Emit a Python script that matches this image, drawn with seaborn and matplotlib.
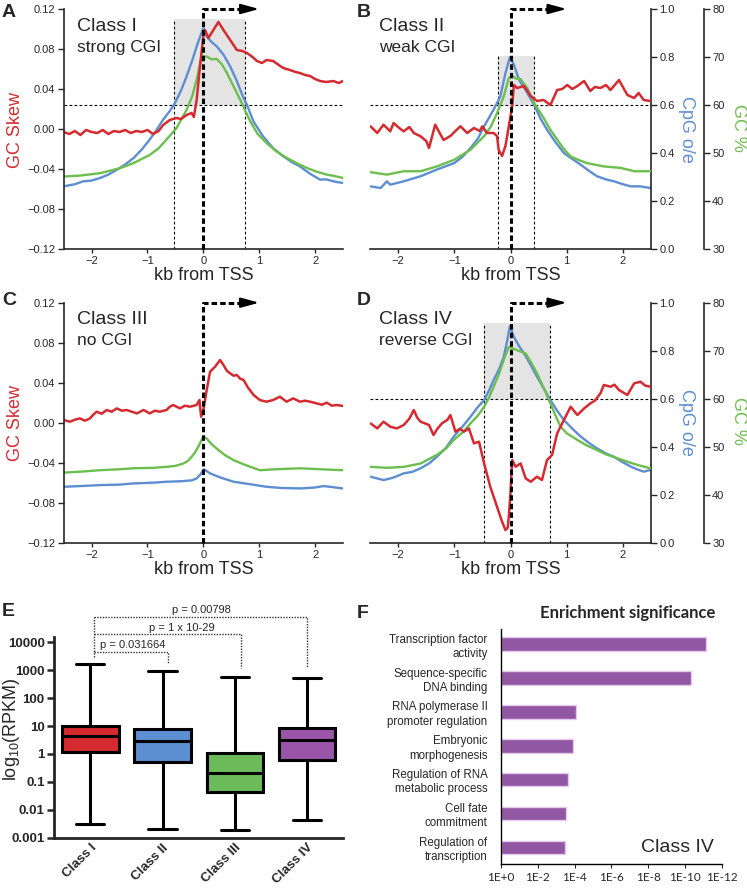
import numpy as np
import pandas as pd
import matplotlib
matplotlib.use("Agg")
import matplotlib.pyplot as plt
import seaborn as sns

# ---------------- dados ----------------
kb_ticks = [-2, -1, 0, 1, 2]
skew_ticks = [-0.12, -0.08, -0.04, 0.0, 0.04, 0.08, 0.12]
skew_labels = ["\u22120.12", "\u22120.08", "\u22120.04", "0.00", "0.04", "0.08", "0.12"]
cpg_ticks = [0.0, 0.2, 0.4, 0.6, 0.8, 1.0]
cpg_labels = ["0.0", "0.2", "0.4", "0.6", "0.8", "1.0"]
gc_ticks = [30, 40, 50, 60, 70, 80]

# (kb from TSS, GC skew)
skew_a = [(-2.5, -0.003), (-2.4, -0.005), (-2.3, -0.002), (-2.2, -0.006), (-2.1, -0.001),
          (-2.0, -0.003), (-1.9, -0.004), (-1.8, -0.001), (-1.7, -0.005), (-1.6, -0.002),
          (-1.5, -0.003), (-1.4, -0.001), (-1.3, -0.004), (-1.2, -0.002), (-1.1, -0.003),
          (-1.0, -0.001), (-0.9, -0.005), (-0.8, -0.002), (-0.72, 0.004), (-0.6, 0.009),
          (-0.48, 0.011), (-0.4, 0.010), (-0.3, 0.014), (-0.21, 0.016), (-0.17, 0.012),
          (-0.12, 0.029), (-0.06, 0.063), (0.0, 0.093), (0.03, 0.099), (0.09, 0.091),
          (0.18, 0.099), (0.27, 0.107), (0.36, 0.099), (0.48, 0.089), (0.6, 0.079),
          (0.7, 0.078), (0.78, 0.076), (0.88, 0.072), (0.96, 0.068), (1.05, 0.066),
          (1.13, 0.069), (1.25, 0.068), (1.35, 0.064), (1.43, 0.061), (1.55, 0.059),
          (1.65, 0.057), (1.73, 0.056), (1.82, 0.054), (1.91, 0.053), (2.0, 0.050),
          (2.09, 0.048), (2.2, 0.047), (2.33, 0.048), (2.42, 0.046), (2.5, 0.048)]
# (kb, CpG o/e)
cpg_a = [(-2.5, 0.261), (-2.3, 0.27), (-2.15, 0.282), (-2.0, 0.285), (-1.85, 0.296),
         (-1.7, 0.31), (-1.55, 0.33), (-1.4, 0.352), (-1.25, 0.379), (-1.1, 0.415),
         (-0.96, 0.456), (-0.84, 0.495), (-0.72, 0.539), (-0.6, 0.575), (-0.51, 0.608),
         (-0.4, 0.66), (-0.3, 0.719), (-0.2, 0.785), (-0.12, 0.844), (-0.05, 0.89),
         (0.0, 0.921), (0.03, 0.905), (0.06, 0.886), (0.15, 0.862), (0.24, 0.844),
         (0.36, 0.81), (0.48, 0.761), (0.6, 0.7), (0.7, 0.64), (0.78, 0.601), (0.9, 0.53),
         (1.07, 0.469), (1.25, 0.42), (1.43, 0.386), (1.6, 0.36), (1.73, 0.344),
         (1.9, 0.315), (2.09, 0.289), (2.2, 0.29), (2.33, 0.282), (2.42, 0.278), (2.5, 0.275)]
# (kb, GC %)
gc_a = [(-2.5, 45.1), (-2.2, 45.3), (-1.85, 45.8), (-1.5, 46.8), (-1.25, 47.9), (-0.96, 49.6),
        (-0.8, 51.0), (-0.66, 52.8), (-0.48, 55.2), (-0.3, 59.0), (-0.2, 61.8), (-0.12, 65.3),
        (-0.06, 68.5), (-0.03, 70.1), (0.06, 70.1), (0.15, 69.5), (0.24, 69.6), (0.33, 68.5),
        (0.42, 66.7), (0.54, 63.9), (0.66, 61.1), (0.75, 58.8), (0.84, 56.6), (0.97, 54.0),
        (1.13, 52.1), (1.3, 50.4), (1.49, 49.0), (1.67, 47.9), (1.85, 46.9), (2.03, 46.1),
        (2.21, 45.5), (2.35, 45.2), (2.5, 44.8)]
island_a = (-0.52, 0.75, 0.958)   # inicio kb, fim kb, topo (CpG o/e)

skew_b = [(-2.49, 0.0027), (-2.37, -0.004), (-2.26, 0.0043), (-2.14, -0.0023), (-2.08, 0.006),
          (-1.98, 0.001), (-1.9, -0.0023), (-1.8, 0.002), (-1.72, -0.004), (-1.6, -0.0073),
          (-1.5, -0.012), (-1.45, -0.019), (-1.34, 0.0043), (-1.25, -0.005), (-1.19, -0.011),
          (-1.07, -0.007), (-0.98, -0.002), (-0.89, 0.0027), (-0.77, -0.004), (-0.65, 0.001),
          (-0.55, -0.002), (-0.5, 0.0027), (-0.42, -0.004), (-0.3, -0.004), (-0.24, -0.007),
          (-0.21, -0.021), (-0.15, -0.027), (-0.09, -0.017), (-0.03, 0.0027), (0.03, 0.023),
          (0.06, 0.044), (0.12, 0.041), (0.24, 0.043), (0.36, 0.033), (0.47, 0.028),
          (0.59, 0.029), (0.71, 0.024), (0.83, 0.039), (0.92, 0.040), (1.01, 0.044),
          (1.1, 0.040), (1.19, 0.043), (1.31, 0.048), (1.42, 0.038), (1.5, 0.042),
          (1.6, 0.041), (1.7, 0.044), (1.78, 0.039), (1.93, 0.049), (2.0, 0.042),
          (2.08, 0.034), (2.2, 0.031), (2.28, 0.036), (2.37, 0.029), (2.49, 0.028)]
cpg_b = [(-2.49, 0.261), (-2.31, 0.254), (-2.2, 0.282), (-2.14, 0.268), (-1.9, 0.282),
         (-1.6, 0.303), (-1.31, 0.331), (-1.0, 0.358), (-0.85, 0.385), (-0.71, 0.421),
         (-0.58, 0.46), (-0.47, 0.511), (-0.3, 0.581), (-0.18, 0.636), (-0.09, 0.733),
         (-0.01, 0.8), (0.06, 0.768), (0.15, 0.706), (0.3, 0.65), (0.42, 0.601),
         (0.53, 0.545), (0.65, 0.497), (0.8, 0.445), (0.95, 0.4), (1.1, 0.375),
         (1.25, 0.351), (1.4, 0.325), (1.54, 0.303), (1.7, 0.29), (1.84, 0.282),
         (2.0, 0.27), (2.14, 0.261), (2.31, 0.261), (2.49, 0.254)]
gc_b = [(-2.49, 46.0), (-2.2, 45.5), (-1.9, 46.2), (-1.6, 46.2), (-1.31, 47.2), (-1.0, 48.6),
        (-0.71, 50.7), (-0.47, 53.5), (-0.35, 55.5), (-0.24, 58.3), (-0.12, 61.8),
        (-0.03, 65.6), (0.03, 66.1), (0.1, 65.5), (0.18, 65.4), (0.3, 63.5), (0.42, 60.4),
        (0.59, 57.3), (0.7, 55.0), (0.83, 52.8), (0.95, 50.8), (1.07, 49.3), (1.2, 48.6),
        (1.36, 47.9), (1.66, 47.2), (1.96, 46.9), (2.2, 46.2), (2.49, 46.2)]
island_b = (-0.22, 0.42, 0.806)

skew_c = [(-2.5, 0.0027), (-2.39, 0.001), (-2.3, 0.003), (-2.21, 0.0043), (-2.12, 0.002),
          (-2.03, 0.0043), (-1.97, 0.008), (-1.91, 0.011), (-1.82, 0.009), (-1.73, 0.0127),
          (-1.64, 0.011), (-1.55, 0.0143), (-1.46, 0.012), (-1.37, 0.0127), (-1.28, 0.011),
          (-1.19, 0.0093), (-1.07, 0.0127), (-0.96, 0.0093), (-0.87, 0.012), (-0.78, 0.011),
          (-0.66, 0.0127), (-0.6, 0.016), (-0.54, 0.0177), (-0.42, 0.0143), (-0.33, 0.017),
          (-0.24, 0.016), (-0.12, 0.0177), (-0.07, 0.0227), (-0.04, 0.006), (0.0, 0.0127),
          (0.06, 0.0327), (0.12, 0.051), (0.21, 0.056), (0.3, 0.0627), (0.36, 0.0577),
          (0.42, 0.052), (0.48, 0.0493), (0.54, 0.047), (0.6, 0.0477), (0.66, 0.044),
          (0.72, 0.0427), (0.8, 0.035), (0.9, 0.0277), (1.01, 0.0227), (1.13, 0.021),
          (1.25, 0.0227), (1.37, 0.026), (1.49, 0.021), (1.61, 0.0243), (1.73, 0.021),
          (1.82, 0.022), (1.91, 0.021), (2.03, 0.0193), (2.12, 0.018), (2.21, 0.02),
          (2.3, 0.017), (2.39, 0.0177), (2.5, 0.0167)]
cpg_c = [(-2.5, 0.233), (-2.2, 0.236), (-1.85, 0.24), (-1.5, 0.242), (-1.25, 0.247),
         (-0.9, 0.25), (-0.66, 0.254), (-0.4, 0.256), (-0.2, 0.26), (-0.12, 0.268),
         (-0.05, 0.285), (0.01, 0.306), (0.06, 0.298), (0.12, 0.289), (0.3, 0.272),
         (0.54, 0.254), (0.8, 0.245), (1.13, 0.233), (1.4, 0.228), (1.73, 0.226),
         (2.0, 0.23), (2.15, 0.236), (2.3, 0.232), (2.5, 0.226)]
gc_c = [(-2.5, 44.6), (-2.2, 44.8), (-1.85, 45.1), (-1.5, 45.3), (-1.25, 45.5), (-0.9, 45.6),
        (-0.66, 45.8), (-0.5, 46.0), (-0.36, 46.5), (-0.28, 47.0), (-0.21, 47.9),
        (-0.15, 48.8), (-0.09, 50.0), (-0.04, 51.2), (0.0, 52.1), (0.06, 51.7), (0.15, 50.5),
        (0.24, 49.6), (0.38, 48.3), (0.54, 47.2), (0.75, 46.2), (1.01, 45.1), (1.3, 45.3),
        (1.73, 45.5), (2.1, 45.3), (2.5, 45.1)]

skew_d = [(-2.49, -0.0007), (-2.37, -0.0057), (-2.26, 0.001), (-2.14, -0.004), (-2.02, -0.0057),
          (-1.9, -0.0023), (-1.8, 0.004), (-1.72, 0.0127), (-1.66, 0.005), (-1.6, 0.001),
          (-1.45, -0.0023), (-1.37, -0.0123), (-1.3, -0.006), (-1.22, -0.0007), (-1.12, 0.003),
          (-1.07, 0.0077), (-0.98, -0.009), (-0.9, -0.006), (-0.83, -0.009), (-0.74, -0.0057),
          (-0.65, -0.0207), (-0.56, -0.019), (-0.47, -0.0407), (-0.36, -0.064), (-0.24, -0.084),
          (-0.15, -0.099), (-0.09, -0.1073), (-0.05, -0.105), (-0.03, -0.094), (0.0, -0.07),
          (0.03, -0.0373), (0.09, -0.044), (0.18, -0.0407), (0.27, -0.0557), (0.36, -0.059),
          (0.47, -0.054), (0.56, -0.0573), (0.65, -0.0373), (0.74, -0.0323), (0.83, -0.0107),
          (0.95, 0.0027), (1.07, 0.016), (1.19, 0.0077), (1.31, 0.0143), (1.42, 0.0193),
          (1.5, 0.022), (1.6, 0.0293), (1.66, 0.0377), (1.78, 0.036), (1.85, 0.038),
          (1.93, 0.0327), (2.08, 0.0277), (2.2, 0.0393), (2.31, 0.041), (2.4, 0.037),
          (2.49, 0.036)]
cpg_d = [(-2.49, 0.275), (-2.26, 0.261), (-2.1, 0.27), (-1.9, 0.289), (-1.75, 0.295),
         (-1.6, 0.31), (-1.45, 0.33), (-1.31, 0.358), (-1.15, 0.395), (-1.01, 0.442),
         (-0.85, 0.485), (-0.71, 0.525), (-0.6, 0.56), (-0.47, 0.594), (-0.38, 0.635),
         (-0.3, 0.678), (-0.2, 0.725), (-0.12, 0.775), (-0.06, 0.84), (-0.01, 0.903),
         (0.06, 0.858), (0.15, 0.82), (0.24, 0.789), (0.36, 0.74), (0.47, 0.692),
         (0.6, 0.64), (0.71, 0.594), (0.83, 0.55), (0.95, 0.511), (1.1, 0.475),
         (1.25, 0.442), (1.4, 0.415), (1.54, 0.393), (1.7, 0.372), (1.84, 0.358),
         (2.0, 0.335), (2.14, 0.317), (2.26, 0.305), (2.37, 0.296), (2.49, 0.303)]
gc_d = [(-2.49, 45.8), (-2.2, 45.6), (-1.9, 45.8), (-1.6, 46.5), (-1.31, 48.3), (-1.15, 49.6),
        (-1.01, 51.4), (-0.85, 53.0), (-0.71, 54.9), (-0.58, 56.5), (-0.47, 58.3),
        (-0.38, 60.3), (-0.3, 62.5), (-0.2, 65.3), (-0.12, 68.1), (-0.03, 70.8), (0.12, 70.1),
        (0.27, 69.4), (0.37, 67.5), (0.47, 65.3), (0.6, 62.0), (0.71, 59.0), (0.8, 56.5),
        (0.89, 54.2), (1.0, 52.8), (1.19, 51.4), (1.35, 50.3), (1.54, 49.3), (1.7, 48.4),
        (1.9, 47.6), (2.1, 46.8), (2.26, 46.2), (2.49, 45.5)]
island_d = (-0.47, 0.71, 0.914)

# painel E: resumo do boxplot (RPKM)
classes = ["Class I", "Class II", "Class III", "Class IV"]
rpkm_min = [0.0032, 0.0021, 0.0019, 0.0043]
rpkm_q1 = [1.2, 0.51, 0.045, 0.6]
rpkm_med = [4.4, 2.9, 0.2, 3.2]
rpkm_q3 = [10.0, 7.85, 1.1, 8.7]
rpkm_max = [1660, 930, 570, 515]
rpkm_ticks = [0.001, 0.01, 0.1, 1, 10, 100, 1000, 10000]
rpkm_labels = ["0.001", "0.01", "0.1", "1", "10", "100", "1000", "10000"]

# painel F: enriquecimento GO (classe IV)
go_terms = ["Transcription factor\nactivity", "Sequence-specific\nDNA binding",
            "RNA polymerase II\npromoter regulation", "Embryonic\nmorphogenesis",
            "Regulation of RNA\nmetabolic process", "Cell fate\ncommitment",
            "Regulation of\ntranscription"]
go_neglog_p = [11.1, 10.3, 4.1, 3.9, 3.65, 3.55, 3.5]
go_ticks = [0, 2, 4, 6, 8, 10, 12]
go_tick_labels = ["1E+0", "1E-2", "1E-4", "1E-6", "1E-8", "1E-10", "1E-12"]

RED, BLUE, GREEN = "#d42a30", "#5e8ed2", "#6cbf4e"
box_colors = ["#d42a30", "#5b8fd1", "#6cbb5a", "#9b55a8"]
PURPLE = "#9157a3"
GRAY = "#e4e4e4"

sns.set_style("ticks")
plt.rcParams["font.family"] = ["Liberation Sans", "DejaVu Sans"]
plt.rcParams["mathtext.default"] = "regular"

W, H = 747, 891
fig = plt.figure(figsize=(W / 100, H / 100), dpi=100)


def rect(x0, y0, x1, y1):
    # pixels -> fracao da figura
    return [x0 / W, 1 - y1 / H, (x1 - x0) / W, (y1 - y0) / H]


def painel(r, skew, cpg, gc, island, lado_direito, nome, sub, tx):
    ax = fig.add_axes(r)
    ax2 = ax.twinx()
    ax3 = ax.twinx()
    ax.set_zorder(3)
    ax.patch.set_visible(False)

    if island is not None:
        x0, x1, top = island
        ax2.axvspan(x0, x1, ymin=0.6, ymax=top, color=GRAY, lw=0, zorder=0)
        ax2.axhline(0.6, color="k", lw=0.8, ls=(0, (2.5, 2)), zorder=1)
        ax2.vlines([x0, x1], 0, top, color="k", lw=0.8, ls=(0, (2.5, 2)), zorder=1)

    x, y = zip(*cpg)
    sns.lineplot(x=list(x), y=list(y), ax=ax2, color=BLUE, lw=1.7)
    x, y = zip(*gc)
    sns.lineplot(x=list(x), y=list(y), ax=ax3, color=GREEN, lw=1.7)
    x, y = zip(*skew)
    sns.lineplot(x=list(x), y=list(y), ax=ax, color=RED, lw=1.8)

    for a in (ax, ax2, ax3):
        a.set_xlim(-2.5, 2.5)
        a.set_ylabel("")
        a.set_xlabel("")
        for s in a.spines.values():
            s.set_visible(False)
            s.set_linewidth(1.2)
    ax.set_ylim(-0.12, 0.12)
    ax2.set_ylim(0, 1)
    ax3.set_ylim(30, 80)

    # seta do TSS
    ax.plot([0, 0, 0.75], [-0.12, 0.12, 0.12], color="k", lw=2.2,
            ls=(0, (1.8, 1.0)), clip_on=False, zorder=5)
    ax.annotate("", xy=(1.0, 0.12), xytext=(0.7, 0.12), annotation_clip=False,
                arrowprops=dict(arrowstyle="-|>,head_length=1.1,head_width=0.3",
                                mutation_scale=10, color="k", lw=1.5,
                                shrinkA=0, shrinkB=0), zorder=5)

    ax.spines["bottom"].set_visible(True)
    ax.set_xticks(kb_ticks)
    ax.tick_params(axis="x", labelsize=8, length=3, width=1, pad=2)
    ax.set_yticks(skew_ticks)
    if lado_direito:
        ax.tick_params(axis="y", left=False, labelleft=False)
        ax2.spines["right"].set_visible(True)
        ax2.set_yticks(cpg_ticks)
        ax2.set_yticklabels(cpg_labels)
        ax2.tick_params(axis="y", labelsize=8, length=4, width=1, pad=2)
        ax3.spines["right"].set_visible(True)
        ax3.spines["right"].set_position(("outward", 38))
        ax3.set_yticks(gc_ticks)
        ax3.tick_params(axis="y", labelsize=8, length=4, width=1, pad=2)
    else:
        ax.spines["left"].set_visible(True)
        ax.set_yticklabels(skew_labels)
        ax.tick_params(axis="y", labelsize=8, length=4, width=1, pad=2)
        ax2.tick_params(axis="y", right=False, labelright=False)
        ax3.tick_params(axis="y", right=False, labelright=False)

    ax.text(tx, 0.91, nome, transform=ax.transAxes, fontsize=14, va="baseline")
    ax.text(tx, 0.822, sub, transform=ax.transAxes, fontsize=12.5, va="baseline")
    ax.text(0.5, -0.13, "kb from TSS", transform=ax.transAxes, fontsize=13,
            ha="center", va="baseline")
    return ax


painel(rect(63.7, 9, 343, 249), skew_a, cpg_a, gc_a, island_a, False,
       "Class I", "strong CGI", 0.047)
painel(rect(370, 9, 651, 249), skew_b, cpg_b, gc_b, island_b, True,
       "Class II", "weak CGI", 0.033)
painel(rect(63.7, 302.7, 343, 542.7), skew_c, cpg_c, gc_c, None, False,
       "Class III", "no CGI", 0.047)
painel(rect(370, 302.7, 651, 542.7), skew_d, cpg_d, gc_d, island_d, True,
       "Class IV", "reverse CGI", 0.033)

for yc in (130, 423):
    fig.text(15 / W, 1 - yc / H, "GC Skew", color=RED, fontsize=13,
             rotation=90, ha="center", va="center")
    fig.text(686 / W, 1 - (yc - 1) / H, "CpG o/e", color=BLUE, fontsize=13,
             rotation=-90, ha="center", va="center")
    fig.text(738 / W, 1 - (yc - 2) / H, "GC %", color=GREEN, fontsize=13,
             rotation=-90, ha="center", va="center")

# ---------------- painel E ----------------
axe = fig.add_axes(rect(54.3, 636.7, 343, 837.7))
df_box = pd.DataFrame({
    "classe": np.repeat(classes, 5),
    "rpkm": np.ravel(np.column_stack([rpkm_min, rpkm_q1, rpkm_med, rpkm_q3, rpkm_max])),
})
sns.boxplot(data=df_box, x="classe", y="rpkm", hue="classe", palette=box_colors,
            whis=(0, 100), log_scale=True, width=0.78, linewidth=2.2,
            linecolor="black", saturation=1, legend=False, ax=axe)
axe.set_xlim(-0.5, 3.5)
axe.set_ylim(1e-3, 1.6e4)
axe.set_yticks(rpkm_ticks)
axe.set_yticklabels(rpkm_labels, fontweight="bold", fontsize=9.5)
axe.minorticks_off()
axe.tick_params(axis="y", length=5, width=1.8, pad=2)
axe.tick_params(axis="x", length=0, pad=3)
axe.set_xticks(range(4))
axe.set_xticklabels(classes, rotation=45, ha="right", va="top",
                    rotation_mode="anchor", fontweight="bold", fontsize=9.5)
axe.set_xlabel("")
axe.set_ylabel("")
for s in ("top", "right"):
    axe.spines[s].set_visible(False)
for s in ("left", "bottom"):
    axe.spines[s].set_linewidth(2)
fig.text(12 / W, 1 - 729 / H, "log$_{10}$(RPKM)", fontsize=13, rotation=90,
         ha="center", va="center")

# colchetes dos p-valores
pk = dict(color="#333333", lw=1, ls=(0, (1, 1)), clip_on=False)
axe.plot([0.05, 0.05], [3.0e3, 8.3e4], **pk)
axe.plot([0.05, 3.0, 3.0], [8.3e4, 8.3e4, 1.17e3], **pk)
axe.plot([0.05, 2.08, 2.08], [2.0e4, 2.0e4, 1.17e3], **pk)
axe.plot([0.05, 1.08, 1.08], [4.6e3, 4.6e3, 1.66e3], **pk)
axe.text(1.54, 1.1e5, "p = 0.00798", fontsize=8, ha="center", va="baseline")
axe.text(1.26, 2.6e4, "p = 1 x 10-29", fontsize=8, ha="center", va="baseline")
axe.text(0.59, 6.1e3, "p = 0.031664", fontsize=8, ha="center", va="baseline")

# ---------------- painel F ----------------
axf = fig.add_axes(rect(500.7, 629.3, 722.3, 864))
sns.barplot(x=go_neglog_p, y=go_terms, orient="h", color=PURPLE, saturation=1,
            edgecolor="#e6c8ee", linewidth=1, width=0.4, ax=axf)
axf.set_xlim(0, 12)
axf.set_ylim(6.49, -0.44)
axf.set_xticks(go_ticks)
axf.set_xticklabels(go_tick_labels, family="Lato", fontsize=8.5)
axf.tick_params(axis="x", length=3, width=0.8, pad=3)
axf.tick_params(axis="y", length=0, pad=9.5, labelsize=8.3)
for lab in axf.get_yticklabels():
    lab.set_linespacing(1.25)
for s in ("top", "right"):
    axf.spines[s].set_visible(False)
for s in ("left", "bottom"):
    axf.spines[s].set_linewidth(1)
    axf.spines[s].set_color("black")
axf.set_xlabel("")
axf.set_ylabel("")
axf.text(0.574, 1.047, "Enrichment significance", transform=axf.transAxes,
         family="Lato", fontweight="bold", fontsize=12, ha="center", va="baseline")
axf.text(0.796, 0.052, "Class IV", transform=axf.transAxes, fontsize=14,
         ha="center", va="baseline")

# letras dos paineis
for letra, px, py in [("A", 2, 4), ("B", 357, 4), ("C", 2, 292), ("D", 357, 292),
                      ("E", 2, 603), ("F", 357, 605)]:
    fig.text(px / W, 1 - py / H, letra, fontsize=14, fontweight="bold", va="top")

fig.savefig("out.png", dpi=100)
